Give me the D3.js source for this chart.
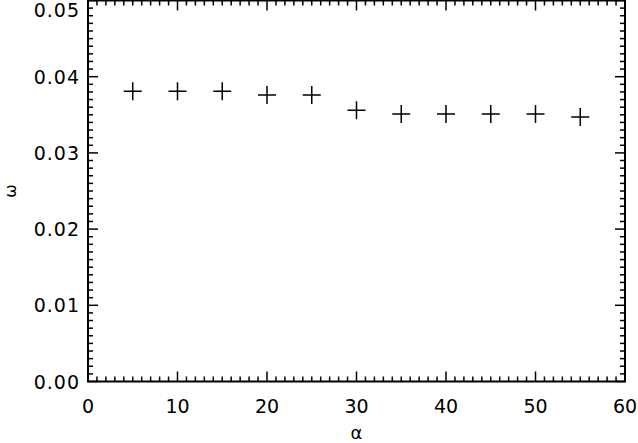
<!DOCTYPE html>
<html><head><meta charset="utf-8">
<script src="https://cdn.jsdelivr.net/npm/d3@7"></script>
<style>body{margin:0;background:#fff}svg{display:block}text{font-family:"DejaVu Sans",sans-serif;fill:#000}</style>
</head><body><svg id="c" width="638" height="443"></svg>
<script>
const alphaVals = [5, 10, 15, 20, 25, 30, 35, 40, 45, 50, 55];
const omegaVals = [0.0381, 0.0381, 0.0381, 0.0376, 0.0376, 0.0356, 0.0351, 0.0351, 0.0351, 0.0351, 0.0347];
const xTicks = [0, 10, 20, 30, 40, 50, 60];
const yTicks = [0.00, 0.01, 0.02, 0.03, 0.04, 0.05];
const xLabel = "α", yLabel = "ω";

const svg = d3.select("#c");
const L = 88, R = 625, T = 0.5, B = 381.5;
const x = d3.scaleLinear().domain([0, 60]).range([L, R]);
const y = d3.scaleLinear().domain([0, 0.05]).range([B, T]);
const g = svg.append("g");
const xMinor = d3.range(0, 61, 1), yMinor = d3.range(0, 51, 1).map(v => v / 1000);

g.append("rect").attr("x", L).attr("y", T).attr("width", R - L).attr("height", B - T)
  .attr("fill", "none").attr("stroke", "#000").attr("stroke-width", 2);

function isMajorX(v){return Math.abs(v % 10) < 1e-9;}
function isMajorY(v){return Math.abs(Math.round(v*1000) % 10) === 0;}
xMinor.forEach(v => {
  const len = isMajorX(v) ? 10 : 5;
  g.append("line").attr("x1", x(v)).attr("x2", x(v)).attr("y1", B).attr("y2", B - len).attr("stroke", "#000").attr("stroke-width", 1.5);
  g.append("line").attr("x1", x(v)).attr("x2", x(v)).attr("y1", T).attr("y2", T + len).attr("stroke", "#000").attr("stroke-width", 1.5);
});
yMinor.forEach(v => {
  const len = isMajorY(v) ? 10 : 5;
  g.append("line").attr("x1", L).attr("x2", L + len).attr("y1", y(v)).attr("y2", y(v)).attr("stroke", "#000").attr("stroke-width", 1.5);
  g.append("line").attr("x1", R).attr("x2", R - len).attr("y1", y(v)).attr("y2", y(v)).attr("stroke", "#000").attr("stroke-width", 1.5);
});
g.selectAll(".xl").data(xTicks).enter().append("text")
  .attr("x", d => x(d)).attr("y", 413).attr("text-anchor", "middle")
  .attr("font-size", 19).text(d => d);
g.selectAll(".yl").data(yTicks).enter().append("text")
  .attr("x", 80).attr("y", d => Math.max(y(d), 10) + 7).attr("text-anchor", "end")
  .attr("font-size", 19).attr("letter-spacing", 1).text(d => d.toFixed(2));
g.append("text").attr("x", (L + R) / 2).attr("y", 439).attr("text-anchor", "middle").attr("font-size", 18).text(xLabel);
g.append("text").attr("transform", `translate(16,${(T + B) / 2}) rotate(-90)`).attr("text-anchor", "middle").attr("font-size", 16).text(yLabel);
const s = 9;
g.selectAll(".m").data(alphaVals.map((a, i) => [a, omegaVals[i]])).enter().append("path")
  .attr("d", d => `M${x(d[0]) - s},${y(d[1])}H${x(d[0]) + s}M${x(d[0])},${y(d[1]) - s}V${y(d[1]) + s}`)
  .attr("stroke", "#000").attr("stroke-width", 1.5).attr("fill", "none");
</script></body></html>
